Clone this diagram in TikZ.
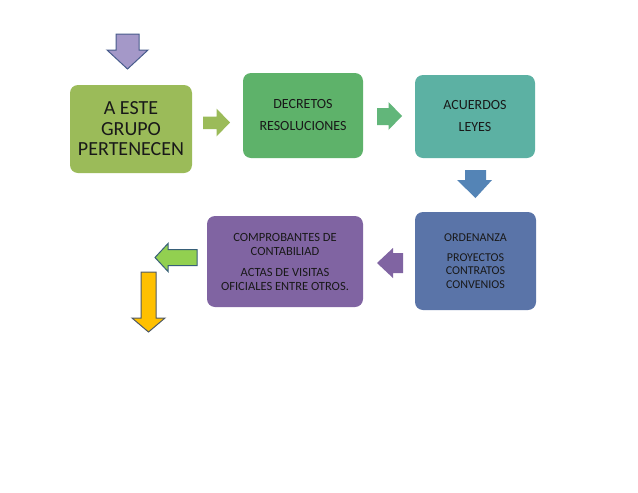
\documentclass[tikz,border=0pt]{standalone}
\usepackage{fontspec}
\setmainfont{Carlito}
\definecolor{cOlive}{RGB}{155,187,89}
\definecolor{cGreen}{RGB}{94,178,106}
\definecolor{cGreenArr}{RGB}{98,182,122}
\definecolor{cTeal}{RGB}{92,177,163}
\definecolor{cBlueArr}{RGB}{84,132,182}
\definecolor{cBlue}{RGB}{90,116,168}
\definecolor{cPurple}{RGB}{128,100,162}
\definecolor{cLilac}{RGB}{164,152,200}
\definecolor{cLilacLine}{RGB}{72,92,140}
\definecolor{cLime}{RGB}{146,208,80}
\definecolor{cLimeLine}{RGB}{55,95,120}
\definecolor{cYellow}{RGB}{255,192,0}
\definecolor{cYellowLine}{RGB}{80,90,100}
\tikzset{
  box/.style={rounded corners=8pt, inner sep=2pt, align=center, text=black!90},
  blockarrow/.style={line width=1pt, line join=miter},
}
\begin{document}
\begin{tikzpicture}[x=1pt,y=-1pt]
\useasboundingbox (0,0) rectangle (638,493);
\fill[white] (0,0) rectangle (638,493);

% boxes
\node[box, fill=cOlive, minimum width=122pt, minimum height=88pt, font=\fontsize{20}{20.5}\selectfont] (b1) at (131,129) {A ESTE\\GRUPO\\PERTENECEN};
\node[box, fill=cGreen, minimum width=120pt, minimum height=85pt, font=\fontsize{14}{16}\selectfont] (b2) at (303,115.5) {DECRETOS\\[6pt]RESOLUCIONES};
\node[box, fill=cTeal, minimum width=120pt, minimum height=83pt, font=\fontsize{14}{16}\selectfont] (b3) at (475,116.5) {ACUERDOS\\[6pt]LEYES};
\node[box, fill=cBlue, minimum width=121pt, minimum height=98pt, font=\fontsize{12}{13.5}\selectfont] (b4) at (475.5,261) {ORDENANZA\\[6.5pt]PROYECTOS\\CONTRATOS\\CONVENIOS};
\node[box, fill=cPurple, minimum width=156pt, minimum height=91pt, font=\fontsize{12.5}{14}\selectfont] (b5) at (285,261.5) {COMPROBANTES DE\\CONTABILIAD\\[7pt]ACTAS DE VISITAS\\OFICIALES ENTRE OTROS.};

% block arrows
% top purple down arrow
\filldraw[blockarrow, fill=cLilac, draw=cLilacLine]
  (116,34) -- (139,34) -- (139,50) -- (148,50) -- (127.5,69) -- (107,50) -- (116,50) -- cycle;
% olive right arrow
\fill[cOlive]
  (203,116.5) -- (216.5,116.5) -- (216.5,108.5) -- (230,122.5) -- (216.5,136.5) -- (216.5,129) -- (203,129) -- cycle;
% green right arrow
\fill[cGreenArr]
  (377,108) -- (388.5,108) -- (388.5,102) -- (402,116) -- (388.5,130) -- (388.5,125) -- (377,125) -- cycle;
% blue down arrow
\fill[cBlueArr]
  (465,170) -- (486,170) -- (486,180) -- (492,180) -- (475.5,198) -- (457,180) -- (465,180) -- cycle;
% purple left arrow
\fill[cPurple]
  (403,253) -- (393,253) -- (393,248) -- (377,263) -- (393,278) -- (393,273) -- (403,273) -- cycle;
% lime left arrow
\filldraw[blockarrow, fill=cLime, draw=cLimeLine]
  (197,249.5) -- (168,249.5) -- (168,243.5) -- (155,257.5) -- (168,271.5) -- (168,265.5) -- (197,265.5) -- cycle;
% yellow down arrow
\filldraw[blockarrow, fill=cYellow, draw=cYellowLine]
  (141,272) -- (156,272) -- (156,318) -- (165,318) -- (148.5,332) -- (132,318) -- (141,318) -- cycle;
\end{tikzpicture}
\end{document}
